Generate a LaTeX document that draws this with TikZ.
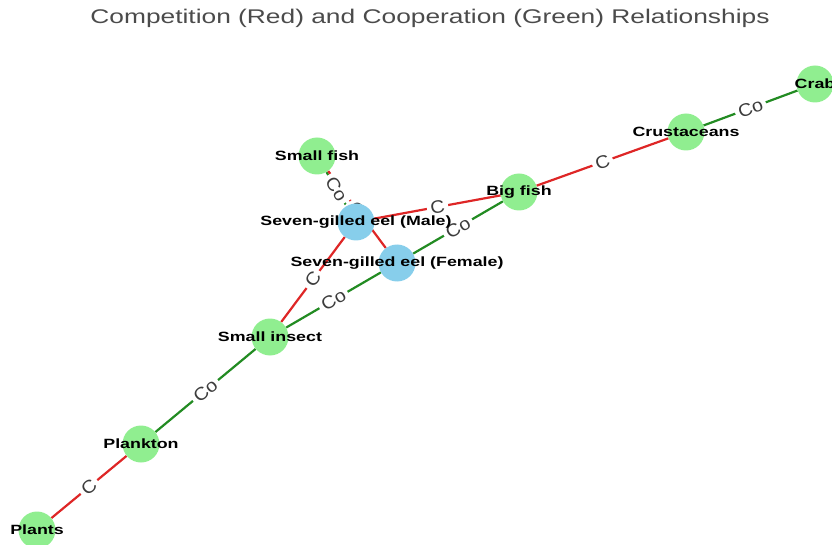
\documentclass[tikz,border=0pt]{standalone}
\usepackage{graphicx}
\usepackage{fontspec}
\setmainfont{Liberation Sans}
\definecolor{nodegreen}{RGB}{144,238,144}
\definecolor{nodeblue}{RGB}{135,206,235}
\definecolor{edgered}{RGB}{222,38,38}
\definecolor{edgegreen}{RGB}{34,139,34}
\definecolor{titlegray}{RGB}{75,75,75}
\definecolor{labgray}{RGB}{60,60,60}
\newcommand\xstretch[1]{\scalebox{1.33}[1]{#1}}
\newcommand\lstretch[1]{\scalebox{1.1}[1]{#1}}
\pgfdeclarelayer{edges}
\pgfdeclarelayer{elabels}
\pgfsetlayers{edges,elabels,main}
\begin{document}
\begin{tikzpicture}[x=1pt,y=-1pt,
  circ/.style={circle,minimum size=37pt,inner sep=0pt},
  gnode/.style={circ,fill=nodegreen},
  bnode/.style={circ,fill=nodeblue},
  nlab/.style={font=\fontsize{13.4}{15}\selectfont\bfseries,text=black,inner sep=0pt},
  comp/.style={draw=edgered,line width=2.2pt},
  coop/.style={draw=edgegreen,line width=2.2pt},
  elab/.style={fill=white,inner sep=3.5pt,text=labgray,font=\fontsize{18}{20}\selectfont,sloped,midway},
  titlestyle/.style={font=\fontsize{19.8}{22}\selectfont,text=titlegray,inner sep=0pt}
]
\useasboundingbox (0,0) rectangle (832,545);
\node[titlestyle] (title) at (430,18) {\xstretch{Competition (Red) and Cooperation (Green) Relationships}};

\node[gnode,label={[nlab]center:\xstretch{Crab}}] (crab) at (815,84) {};
\node[gnode,label={[nlab]center:\xstretch{Crustaceans}}] (crust) at (686,132) {};
\node[gnode,label={[nlab]center:\xstretch{Big fish}}] (bigfish) at (519,192) {};
\node[gnode,label={[nlab]center:\xstretch{Small fish}}] (smallfish) at (317,156) {};
\node[bnode,label={[nlab]center:\xstretch{Seven-gilled eel (Male)}}] (male) at (356,222) {};
\node[bnode,label={[nlab]center:\xstretch{Seven-gilled eel (Female)}}] (female) at (397,263) {};
\node[gnode,label={[nlab]center:\xstretch{Small insect}}] (insect) at (270,337) {};
\node[gnode,label={[nlab]center:\xstretch{Plankton}}] (plankton) at (141,444) {};
\node[gnode,label={[nlab]center:\xstretch{Plants}}] (plants) at (37,530) {};

\begin{pgfonlayer}{edges}
\draw[comp] (plants) -- (plankton);
\draw[coop] (plankton) -- (insect);
\draw[comp] (insect) -- (male);
\draw[coop] (insect) -- (female);
\draw[coop] (female) -- (bigfish);
\draw[comp] (male) -- (bigfish);
\draw[coop] (smallfish) -- (male);
\draw[comp] (smallfish) -- (female);
\draw[comp] (bigfish) -- (crust);
\draw[coop] (crust) -- (crab);
\end{pgfonlayer}

\begin{pgfonlayer}{elabels}
\path (plants) -- (plankton) node[elab] (l1) {\lstretch{C}};
\path (plankton) -- (insect) node[elab] (l2) {\lstretch{Co}};
\path (insect) -- (male) node[elab] (l3) {\lstretch{C}};
\path (insect) -- (female) node[elab] (l4) {\lstretch{Co}};
\path (female) -- (bigfish) node[elab] (l5) {\lstretch{Co}};
\path (male) -- (bigfish) node[elab] (l6) {\lstretch{C}};
\path (smallfish) -- (male) node[elab] (l7) {\lstretch{Co}};
\path (smallfish) -- (female) node[elab] (l8) {\lstretch{C}};
\path (bigfish) -- (crust) node[elab] (l9) {\lstretch{C}};
\path (crust) -- (crab) node[elab] (l10) {\lstretch{Co}};
\end{pgfonlayer}
\end{tikzpicture}
\end{document}
